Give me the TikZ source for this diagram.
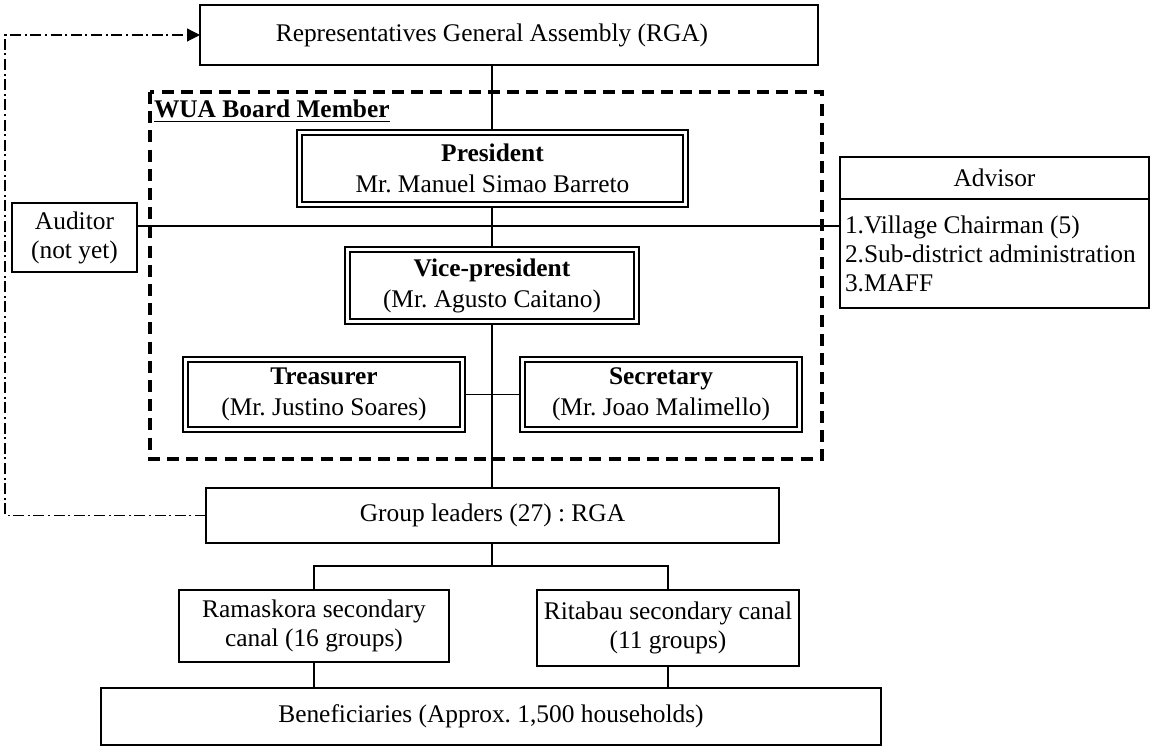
\documentclass[tikz,border=0pt]{standalone}
\usepackage{fontspec}
\setmainfont{Liberation Serif}
\usetikzlibrary{arrows.meta}
\frenchspacing
\begin{document}
\begin{tikzpicture}[x=0.5pt,y=-0.5pt,
  every node/.style={font=\fontsize{12.7}{14.5}\selectfont, align=center, inner sep=0pt, outer sep=0pt},
  box/.style={draw, line width=0.7pt},
  outerbox/.style={draw, line width=0.55pt},
  innerframe/.style={line width=1.1pt},
  twoline/.style={font=\fontsize{12.7}{15.5}\selectfont},
  link/.style={line width=0.6pt},
  board/.style={line width=1.7pt, dash pattern=on 6pt off 3.6pt},
  dashdot/.style={line width=0.6pt, dash pattern=on 5.5pt off 1.8pt on 1pt off 1.8pt},
  tip/.style={-{Triangle[length=6.5pt,width=6.5pt]}}]
\useasboundingbox (0,0) rectangle (1151,747);

% top level assembly
\node[box, minimum width=309pt, minimum height=30pt] (rga) at (509,35) {\hspace*{-17pt}Representatives General Assembly (RGA)};

% board members frame
\draw[board] (150,92) rectangle (822,459);
\node[anchor=base west, font=\fontsize{12.7}{14.5}\selectfont\bfseries] (wua) at (154,118) {\underline{WUA Board Member}};

% board offices (double frames)
\node[outerbox, twoline, minimum width=195.5pt, minimum height=38.5pt] (pres) at (492.5,168.5) {\textbf{President}\\Mr. Manuel Simao Barreto};
\node[outerbox, twoline, minimum width=147pt, minimum height=38.5pt] (vp) at (492,285.5) {\textbf{Vice-president}\\(Mr. Agusto Caitano)};
\node[outerbox, twoline, minimum width=141pt, minimum height=37.5pt] (tre) at (324,394.5) {\textbf{Treasurer}\\(Mr. Justino Soares)};
\node[outerbox, twoline, minimum width=141pt, minimum height=37.5pt] (sec) at (661,394.5) {\textbf{Secretary}\\(Mr. Joao Malimello)};
\foreach \n in {pres,vp,tre,sec}
  \draw[innerframe] ([shift={(2.4pt,-2.4pt)}]\n.north west) rectangle ([shift={(-2.4pt,2.4pt)}]\n.south east);

% side boxes
\node[box, minimum width=62.5pt, minimum height=34.5pt] (aud) at (74.5,237.5) {Auditor\\(not yet)};
\node[box, minimum width=154.5pt, minimum height=75.5pt] (adv) at (994.5,232.5) {};
\coordinate (advsep) at (0,199);
\draw[box] (adv.west |- advsep) -- (adv.east |- advsep);
\node (advh) at (994.5,178) {Advisor};
\node[anchor=west, align=left] (advl) at (845,254) {1.Village Chairman (5)\\2.Sub-district administration\\3.MAFF};

% lower levels
\node[box, minimum width=286.5pt, minimum height=27.5pt] (gl) at (492.5,515.5) {Group leaders (27) : RGA};
\node[box, minimum width=135pt, minimum height=36pt] (ram) at (314,626) {Ramaskora secondary\\canal (16 groups)};
\node[box, minimum width=131pt, minimum height=38pt] (rit) at (668,628) {Ritabau secondary canal\\(11 groups)};
\node[box, minimum width=390pt, minimum height=28.5pt] (ben) at (491,716.5) {Beneficiaries (Approx. 1,500 households)};

% vertical chain
\coordinate (spine) at (492,0);
\draw[link] (rga.south -| spine) -- (pres.north -| spine);
\draw[link] (pres.south -| spine) -- (vp.north -| spine);
\draw[link] (vp.south -| spine) -- (gl.north -| spine);

% auditor / advisor link
\coordinate (hl) at (492,226);
\draw[link] (aud.east |- hl) -- (adv.west |- hl);

% treasurer / secretary link
\draw[link] (tre.east) -- (sec.west);

% canal branches
\coordinate (br) at (492,566);
\draw[link] (gl.south -| spine) -- (br);
\draw[link] (ram.north) -- (ram.north |- br) -- (rit.north |- br) -- (rit.north);
\draw[link] (ram.south) -- (ram.south |- ben.north);
\draw[link] (rit.south) -- (rit.south |- ben.north);

% feedback from group leaders to the assembly
\coordinate (loop) at (5,35);
\draw[dashdot, tip] (gl.west) -| (loop) -- (rga.west);
\end{tikzpicture}
\end{document}
